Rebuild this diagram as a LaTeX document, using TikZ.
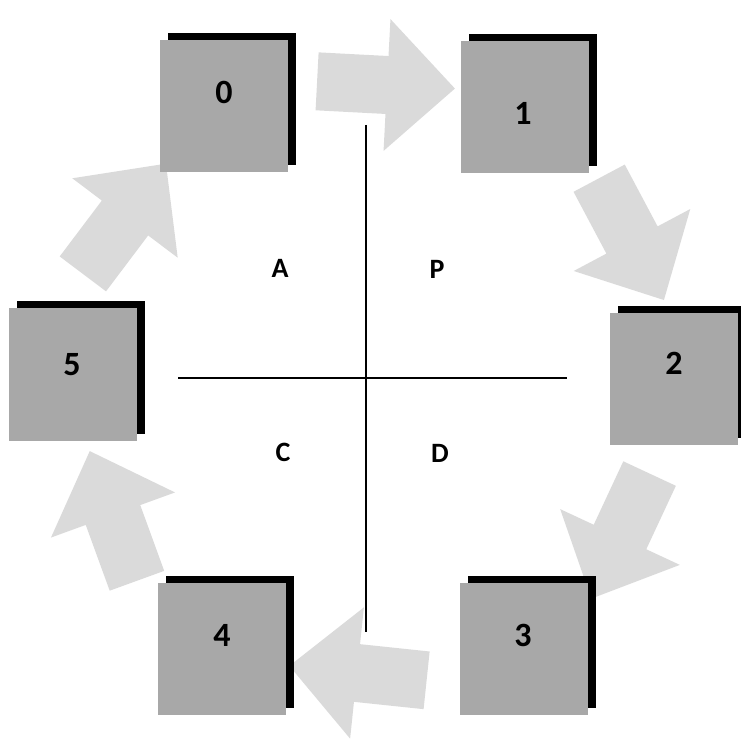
\documentclass[tikz,border=0pt]{standalone}
\usepackage{fontspec}
\setmainfont{Carlito}
\usetikzlibrary{positioning,shadows}
\definecolor{TileGray}{HTML}{A8A8A8}
\definecolor{ArrowGray}{HTML}{DADADA}

\begin{document}
\begin{tikzpicture}[x=1pt,y=1pt,
  tile/.style={fill=TileGray,minimum width=128pt,minimum height=132pt,inner sep=0pt,
    drop shadow={shadow xshift=8pt,shadow yshift=7pt,fill=black,opacity=1}},
  digit/.style={font=\bfseries\fontsize{34}{34}\selectfont,inner sep=0pt},
  zone/.style={font=\bfseries\fontsize{28}{28}\selectfont,inner sep=0pt}]
\useasboundingbox (0,0) rectangle (741,740);

% block arrows round the cycle
\foreach \x/\y/\ang in {387/655/-3,632/500/-62,620/203/-115,357/67/174,113/225/110,125/522/53} {
  \begin{scope}[shift={(\x,\y)},rotate=\ang]
    \fill[ArrowGray] (-70,-29) -- (0,-29) -- (0,-66) -- (68,0) -- (0,66) -- (0,29) -- (-70,29) -- cycle;
  \end{scope}
}

% tiles
\node[tile] (b0) at (224,633.5) {};
\node[tile] (b1) at (524.5,632.5) {};
\node[tile] (b2) at (674,361) {};
\node[tile] (b3) at (523.5,91) {};
\node[tile] (b4) at (222,91) {};
\node[tile] (b5) at (72.5,365.5) {};
\node[digit] (n0) at (224,648) {0};
\node[digit] (n1) at (523,627) {1};
\node[digit] (n2) at (674,377) {2};
\node[digit] (n3) at (523,105) {3};
\node[digit] (n4) at (222,105) {4};
\node[digit] (n5) at (72,375) {5};

% axes
\coordinate (top) at (366,615);
\coordinate (bot) at (366,108);
\coordinate (lft) at (178,362);
\coordinate (rgt) at (567,362);
\draw[line width=1.8pt] (top) -- (bot);
\draw[line width=1.8pt] (lft) -- (rgt);

\node[zone] (qa) at (280,472) {A};
\node[zone] (qp) at (437,471) {P};
\node[zone] (qc) at (283,288) {C};
\node[zone] (qd) at (440,287) {D};
\end{tikzpicture}
\end{document}
